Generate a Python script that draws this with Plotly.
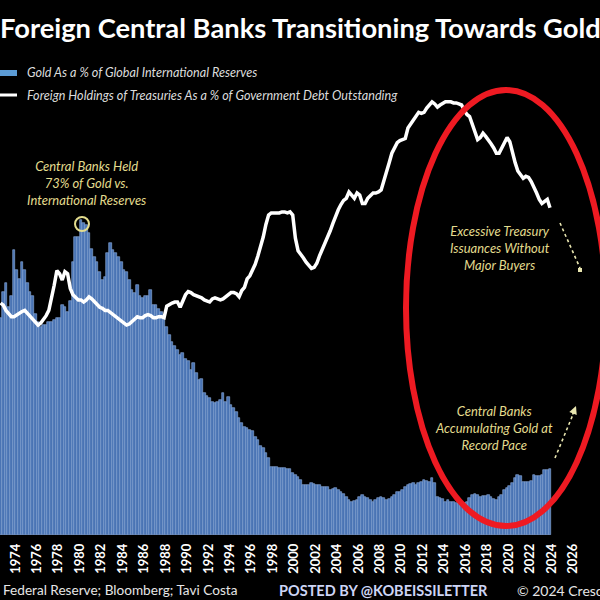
import plotly.graph_objects as go

# ---------------- data (quarterly, 1972Q3 .. 2023Q4) ----------------
first_year, first_q = 1972, 3

gold_pct = [
    50, 56,                      # 1972 Q3-Q4
    58, 52.5, 55, 65.7,          # 1973
    61, 59, 63, 61,              # 1974
    58, 56, 55, 51,              # 1975
    49, 48, 48.4, 48.4,          # 1976
    49, 49, 49.5, 50,            # 1977
    50, 53, 52.5, 51.4,          # 1978
    54, 63, 68.7, 68.7,          # 1979
    72.6, 72, 71.4, 69.6,        # 1980
    66, 64, 63, 60.6,            # 1981
    58.8, 59.5, 65, 67.3,        # 1982
    65.7, 65, 64, 63,            # 1983
    61, 60.6, 58.8, 56.5,        # 1984
    55.8, 57.6, 55, 54.6,        # 1985
    55, 55, 56.5, 53,            # 1986
    53, 52, 51.4, 50,            # 1987
    48, 46, 44.5, 43.5,          # 1988
    42.6, 41.5, 42, 40.5,        # 1989
    40, 38, 39.6, 37.3,          # 1990
    35.7, 36, 32.7, 32,          # 1991
    31.6, 30.6, 30.4, 30.6,      # 1992
    31, 32.7, 30.6, 31.8,        # 1993
    30, 29.3, 28.4, 27,          # 1994
    25.8, 24.9, 24.6, 24.3,      # 1995
    24, 22.6, 21.9, 20.5,        # 1996
    20, 18.9, 17.7, 15.7,        # 1997
    15.7, 15.6, 15.4, 15.4,      # 1998
    15.4, 15.2, 15.2, 14.3,      # 1999
    13.8, 13.4, 12.7, 11.5,      # 2000
    11.5, 11.5, 12, 11.8,        # 2001
    11.5, 11.5, 11, 11,          # 2002
    11, 10.4, 10.6, 10.8,        # 2003
    10.4, 10, 9.5, 8.8,          # 2004
    8, 7.6, 7.8, 8,              # 2005
    8.8, 9.2, 8.8, 8.5,          # 2006
    8, 7.6, 8, 8.5,              # 2007
    8.8, 8.5, 8, 8.4,            # 2008
    8.8, 9.2, 10, 10,            # 2009
    10.4, 11, 11.5, 11.8,        # 2010
    12, 11.5, 12, 12.2,          # 2011
    12.7, 12.5, 12.2, 13.1,      # 2012
    12, 8.8, 8.5, 8.2,           # 2013
    7.6, 8, 7.6, 7.5,            # 2014
    7.4, 7.4, 7.2, 7.3,          # 2015
    7.6, 8.5, 9.2, 9.5,          # 2016
    9.2, 8.8, 9, 9,              # 2017
    9.2, 8.8, 8.4, 8,            # 2018
    8.8, 9.2, 10.4, 10.8,        # 2019
    11.2, 12, 13.1, 13.8,        # 2020
    13.5, 12.2, 12.2, 12.3,      # 2021
    12.5, 13.8, 13.5, 13.6,      # 2022
    13.8, 15, 15, 15.2,          # 2023
]

treasury_pct = [
    13.8, 13.6,                  # 1972 Q3-Q4
    13.1, 12.8, 12.5, 12.5,      # 1973
    12.7, 12.9, 13.0, 13.1,      # 1974
    12.8, 12.5, 12.2, 11.9,      # 1975
    11.7, 11.9, 12.2, 12.6,      # 1976
    13.1, 14.2, 15.5, 16.9,      # 1977
    16.6, 16.0, 16.8, 16.6,      # 1978
    15.2, 14.6, 14.3, 14.1,      # 1979
    14.1, 13.9, 14.1, 14.4,      # 1980
    14.2, 13.9, 13.7, 13.4,      # 1981
    13.3, 13.1, 13.1, 12.9,      # 1982
    12.7, 12.5, 12.3, 12.1,      # 1983
    11.9, 11.7, 11.8, 12.0,      # 1984
    12.3, 12.5, 12.4, 12.4,      # 1985
    12.6, 12.7, 12.6, 12.4,      # 1986
    12.4, 12.5, 12.5, 12.4,      # 1987
    13.5, 13.7, 13.8, 13.9,      # 1988
    13.9, 13.4, 14.1, 14.6,      # 1989
    14.9, 14.8, 14.6, 14.5,      # 1990
    14.4, 14.3, 14.1, 14.0,      # 1991
    13.9, 14.2, 14.3, 14.2,      # 1992
    14.1, 14.2, 14.4, 14.6,      # 1993
    14.8, 14.8, 14.7, 14.4,      # 1994
    15.0, 15.3, 16.1, 16.4,      # 1995
    16.9, 17.5, 18.3, 19.1,      # 1996
    20.1, 21.3, 22.2, 22.4,      # 1997
    22.4, 22.4, 22.4, 22.5,      # 1998
    22.5, 22.4, 22.5, 22.2,      # 1999
    20.0, 18.8, 18.5, 18.1,      # 2000
    17.7, 17.4, 17.1, 17.2,      # 2001
    17.6, 18.3, 18.9, 19.3,      # 2002
    20.0, 20.7, 21.4, 22.1,      # 2003
    22.7, 23.2, 23.6, 23.8,      # 2004
    24.4, 24.1, 23.8, 24.3,      # 2005
    24.1, 23.3, 23.3, 23.8,      # 2006
    24.1, 24.3, 24.3, 24.4,      # 2007
    24.6, 25.4, 26.3, 27.2,      # 2008
    28.1, 28.7, 29.1, 29.3,      # 2009
    29.4, 29.5, 30.5, 30.9,      # 2010
    31.3, 31.7, 32.0, 31.9,      # 2011
    32.0, 32.4, 32.7, 33.0,      # 2012
    32.8, 32.5, 32.7, 32.9,      # 2013
    33.0, 33.0, 33.0, 32.9,      # 2014
    32.9, 32.8, 32.7, 32.2,      # 2015
    31.8, 31.6, 30.8, 30.0,      # 2016
    29.4, 29.6, 30.0, 29.7,      # 2017
    29.4, 29.0, 28.6, 28.1,      # 2018
    28.1, 28.6, 29.2, 29.6,      # 2019
    29.2, 28.1, 27.2, 26.4,      # 2020
    26.0, 25.7, 25.9, 25.8,      # 2021
    25.4, 24.9, 24.3, 23.7,      # 2022
    23.3, 23.5, 23.7, 22.9,      # 2023
]

tick_years = list(range(1974, 2029, 2))
tick_labels = [str(y) for y in tick_years]

title_text = "Foreign Central Banks Transitioning Towards Gold"
legend_gold = "Gold As a % of Global International Reserves"
legend_treas = "Foreign Holdings of Treasuries As a % of Government Debt Outstanding"
note_peak = "Central Banks Held<br>73% of Gold vs.<br>International Reserves"
note_treas = "Excessive Treasury<br>Issuances Without<br>Major Buyers"
note_gold = "Central Banks<br>Accumulating Gold at<br>Record Pace"
source_text = "Federal Reserve; Bloomberg; Tavi Costa"
posted_text = "POSTED BY @KOBEISSILETTER"
copy_text = "\u00a9 2024 Crescat Capital LLC"

# quarter mid-points in decimal years
quarter_x = []
yr, q = first_year, first_q
for _ in gold_pct:
    quarter_x.append(yr + (q - 0.5) / 4)
    q += 1
    if q > 4:
        q = 1
        yr += 1

# ---------------- layout helpers (pixel -> paper) ----------------
W, H, B = 600, 600, 65
PH = H - B


def px(x):
    return x / W


def py(y):
    return (PH - y) / PH


YEL = "#e3dc8e"
ARROW = "#e9e6b0"
FONT = "Lato"

fig = go.Figure()
fig.add_trace(go.Bar(
    x=quarter_x, y=gold_pct, width=0.25,
    marker=dict(color="#4a74b4", line=dict(color="#8fb0e2", width=0.6)),
    hoverinfo="skip", showlegend=False,
))
fig.add_trace(go.Scatter(
    x=quarter_x, y=treasury_pct, yaxis="y2", mode="lines",
    line=dict(color="white", width=3.5),
    hoverinfo="skip", showlegend=False,
))

shapes = [
    # legend swatches
    dict(type="rect", xref="paper", yref="paper", x0=px(0), x1=px(17),
         y0=py(76), y1=py(70), fillcolor="#5b9bd5", line=dict(width=0)),
    dict(type="line", xref="paper", yref="paper", x0=px(0), x1=px(17),
         y0=py(95), y1=py(95), line=dict(color="white", width=3)),
    # red ellipse
    dict(type="circle", xref="paper", yref="paper", x0=px(406), x1=px(606),
         y0=py(526), y1=py(90), line=dict(color="#ee1a22", width=6)),
    # small circle round the peak
    dict(type="circle", xref="paper", yref="paper", x0=px(75), x1=px(89),
         y0=py(231), y1=py(217), line=dict(color=YEL, width=2)),
    # dashed arrow bodies
    dict(type="line", xref="paper", yref="paper", x0=px(560), y0=py(223),
         x1=px(580), y1=py(268), line=dict(color=ARROW, width=1.6, dash="dot")),
    dict(type="line", xref="paper", yref="paper", x0=px(555), y0=py(458),
         x1=px(574), y1=py(412), line=dict(color=ARROW, width=1.6, dash="dot")),
    dict(type="rect", xref="paper", yref="paper", x0=px(578), x1=px(582),
         y0=py(272), y1=py(268), fillcolor=ARROW, line=dict(width=0)),
]

annotations = [
    dict(text=f"<b>{title_text}</b>", x=0.5, y=py(27), xref="paper", yref="paper",
         xanchor="center", yanchor="middle", showarrow=False,
         font=dict(family=FONT, size=27.3, color="white")),
    dict(text=legend_gold, x=px(25), y=py(73), xref="paper", yref="paper",
         xanchor="left", yanchor="middle", showarrow=False,
         font=dict(family=FONT, size=12.6, color="#dcdcdc", style="italic")),
    dict(text=legend_treas, x=px(25), y=py(95), xref="paper", yref="paper",
         xanchor="left", yanchor="middle", showarrow=False,
         font=dict(family=FONT, size=12.6, color="#dcdcdc", style="italic")),
    dict(text=note_peak, x=px(86), y=py(183), xref="paper", yref="paper",
         xanchor="center", yanchor="middle", showarrow=False, align="center",
         font=dict(family=FONT, size=13, color=YEL, style="italic")),
    dict(text=note_treas, x=px(500), y=py(248), xref="paper", yref="paper",
         xanchor="center", yanchor="middle", showarrow=False, align="center",
         font=dict(family=FONT, size=13, color=YEL, style="italic")),
    dict(text=note_gold, x=px(494), y=py(428), xref="paper", yref="paper",
         xanchor="center", yanchor="middle", showarrow=False, align="center",
         font=dict(family=FONT, size=13, color=YEL, style="italic")),
    # arrow head of up-arrow
    dict(text="", x=px(576), y=py(406), ax=-4, ay=10,
         xref="paper", yref="paper",
         showarrow=True, arrowhead=2, arrowsize=1, arrowwidth=1.6,
         arrowcolor=ARROW),
    # footer
    dict(text=source_text, x=px(1), y=py(590), xref="paper", yref="paper",
         xanchor="left", yanchor="middle", showarrow=False,
         font=dict(family=FONT, size=13.6, color="#e6e6e6")),
    dict(text=f"<b>{posted_text}</b>", x=px(383), y=py(590), xref="paper", yref="paper",
         xanchor="center", yanchor="middle", showarrow=False,
         font=dict(family=FONT, size=14.5, color="#cdd5f5")),
    dict(text=copy_text, x=px(515), y=py(590), xref="paper", yref="paper",
         xanchor="left", yanchor="middle", showarrow=False,
         font=dict(family=FONT, size=14, color="#e6e6e6")),
]

fig.update_layout(
    width=W, height=H,
    margin=dict(l=0, r=0, t=0, b=B, pad=0),
    paper_bgcolor="black", plot_bgcolor="black",
    bargap=0, showlegend=False,
    xaxis=dict(range=[1972.57, 2028.54], tickmode="array", tickvals=tick_years,
               ticktext=tick_labels, tickangle=-90, showgrid=False, zeroline=False,
               showline=False, ticks="", ticklabelstandoff=5, automargin=False,
               tickfont=dict(family=FONT, size=13, color="white", weight="bold")),
    yaxis=dict(range=[0, 123.3], visible=False, showgrid=False, zeroline=False,
               automargin=False),
    yaxis2=dict(range=[-8.33, 42.72], overlaying="y", visible=False,
                showgrid=False, zeroline=False, automargin=False),
    shapes=shapes, annotations=annotations,
)

fig.write_html(
    "out.html",
    config={"displayModeBar": False},
    post_script="document.body.style.margin='0';document.body.style.background='black';",
)
